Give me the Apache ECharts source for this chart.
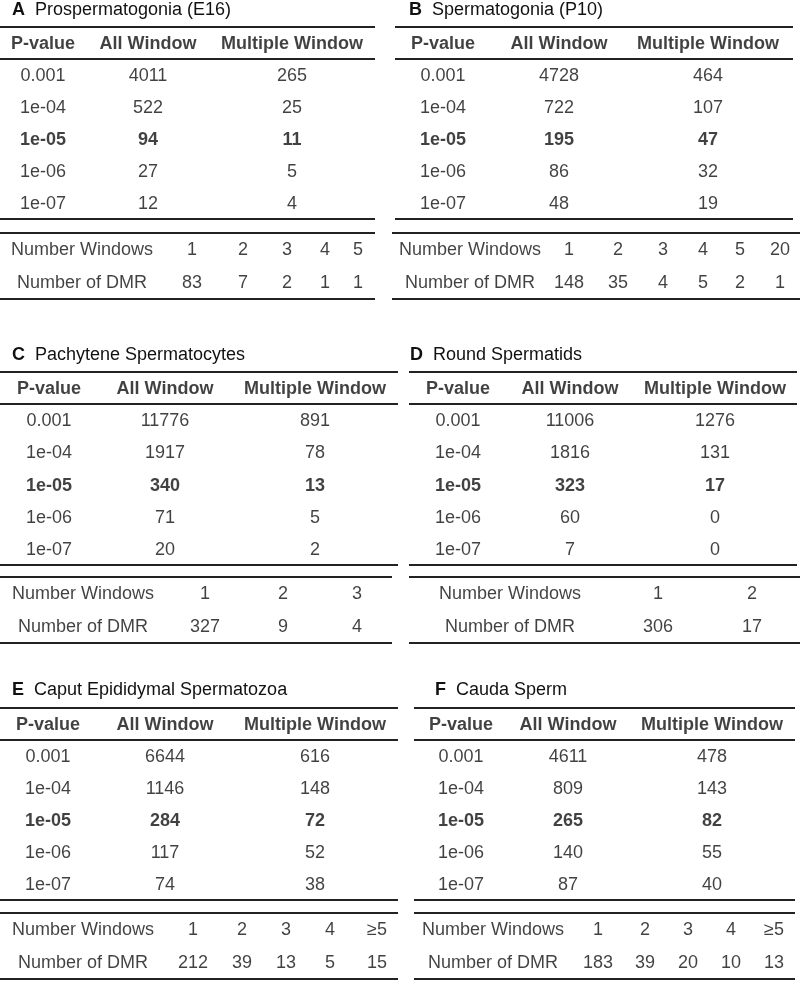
<!DOCTYPE html>
<html>
<head>
<meta charset="utf-8">
<script src="https://cdn.jsdelivr.net/npm/echarts@6/dist/echarts.min.js"></script>
<style>
html,body{margin:0;padding:0;background:#fff;}
#chart{width:800px;height:981px;}
</style>
</head>
<body>
<div id="chart"></div>
<script>
// ---------- DATA ----------
const headers = ['P-value', 'All Window', 'Multiple Window'];
const pValues = ['0.001', '1e-04', '1e-05', '1e-06', '1e-07'];
const boldP = '1e-05';
const bottomLabels = ['Number Windows', 'Number of DMR'];

const titleA = 'Prospermatogonia (E16)';
const allA = [4011, 522, 94, 27, 12];
const multA = [265, 25, 11, 5, 4];
const winA = ['1', '2', '3', '4', '5'];
const dmrA = [83, 7, 2, 1, 1];

const titleB = 'Spermatogonia (P10)';
const allB = [4728, 722, 195, 86, 48];
const multB = [464, 107, 47, 32, 19];
const winB = ['1', '2', '3', '4', '5', '20'];
const dmrB = [148, 35, 4, 5, 2, 1];

const titleC = 'Pachytene Spermatocytes';
const allC = [11776, 1917, 340, 71, 20];
const multC = [891, 78, 13, 5, 2];
const winC = ['1', '2', '3'];
const dmrC = [327, 9, 4];

const titleD = 'Round Spermatids';
const allD = [11006, 1816, 323, 60, 7];
const multD = [1276, 131, 17, 0, 0];
const winD = ['1', '2'];
const dmrD = [306, 17];

const titleE = 'Caput Epididymal Spermatozoa';
const allE = [6644, 1146, 284, 117, 74];
const multE = [616, 148, 72, 52, 38];
const winE = ['1', '2', '3', '4', '≥5'];
const dmrE = [212, 39, 13, 5, 15];

const titleF = 'Cauda Sperm';
const allF = [4611, 809, 265, 140, 87];
const multF = [478, 143, 82, 55, 40];
const winF = ['1', '2', '3', '4', '≥5'];
const dmrF = [183, 39, 20, 10, 13];

// ---------- LAYOUT (positions only) ----------
const layouts = {
  A: {title: [12, 1],   top: {x: [0, 375],   y: [27, 219],  cols: [43, 148, 292]},  bot: {x: [0, 375],   y: [233, 299], labelX: 82,  cols: [192, 243, 287, 325, 358]}},
  B: {title: [409, 1],  top: {x: [395, 793], y: [27, 219],  cols: [443, 559, 708]}, bot: {x: [392, 800], y: [233, 299], labelX: 470, cols: [569, 618, 663, 703, 740, 780]}},
  C: {title: [12, 346], top: {x: [0, 398],   y: [372, 565], cols: [49, 165, 315]},  bot: {x: [0, 392],   y: [577, 643], labelX: 83,  cols: [205, 283, 357]}},
  D: {title: [410, 346],top: {x: [409, 797], y: [372, 565], cols: [458, 570, 715]}, bot: {x: [409, 800], y: [577, 643], labelX: 510, cols: [658, 752]}},
  E: {title: [12, 681], top: {x: [0, 398],   y: [708, 900], cols: [48, 165, 315]},  bot: {x: [0, 398],   y: [913, 979], labelX: 83,  cols: [193, 242, 286, 330, 377]}},
  F: {title: [435, 681],top: {x: [414, 795], y: [708, 900], cols: [461, 568, 712]}, bot: {x: [414, 795], y: [913, 979], labelX: 493, cols: [598, 645, 688, 731, 774]}}
};

const panels = [
  {key: 'A', title: titleA, all: allA, mult: multA, win: winA, dmr: dmrA},
  {key: 'B', title: titleB, all: allB, mult: multB, win: winB, dmr: dmrB},
  {key: 'C', title: titleC, all: allC, mult: multC, win: winC, dmr: dmrC},
  {key: 'D', title: titleD, all: allD, mult: multD, win: winD, dmr: dmrD},
  {key: 'E', title: titleE, all: allE, mult: multE, win: winE, dmr: dmrE},
  {key: 'F', title: titleF, all: allF, mult: multF, win: winF, dmr: dmrF}
];

// ---------- BUILD ----------
const FONT = "'Liberation Sans', Arial, Helvetica, sans-serif";
const TXT = '#111';
const RULE = '#222';

const option = {
  animation: false,
  backgroundColor: '#fff',
  title: [], grid: [], xAxis: [], yAxis: [], series: []
};

function cell(x, row, text, bold) {
  return {
    name: String(text),
    value: [x, row],
    label: {fontWeight: bold ? 'bold' : 'normal'}
  };
}

function addGrid(x, y, yMax, data, lines) {
  const gi = option.grid.length;
  option.grid.push({left: x[0], top: y[0], width: x[1] - x[0], height: y[1] - y[0], containLabel: false});
  option.xAxis.push({type: 'value', gridIndex: gi, min: x[0], max: x[1], show: false});
  option.yAxis.push({type: 'value', gridIndex: gi, min: -0.5, max: yMax, inverse: true, show: false});
  option.series.push({
    type: 'scatter', xAxisIndex: gi, yAxisIndex: gi,
    symbolSize: 0, silent: true,
    data: data,
    label: {
      show: true, position: 'inside', offset: [0, 1],
      formatter: p => p.name,
      fontSize: 18, fontFamily: FONT, color: TXT
    },
    markLine: {
      silent: true, symbol: ['none', 'none'],
      label: {show: false},
      lineStyle: {color: RULE, width: 2, type: 'solid'},
      data: lines.map(v => ({yAxis: v}))
    }
  });
}

panels.forEach(p => {
  const L = layouts[p.key];
  option.title.push({
    left: L.title[0], top: L.title[1], padding: 0,
    text: '{b|' + p.key + '}  {t|' + p.title + '}',
    textStyle: {
      fontWeight: 'normal', fontSize: 18, fontFamily: FONT, color: TXT,
      rich: {
        b: {fontWeight: 'bold', fontSize: 18, fontFamily: FONT, color: TXT},
        t: {fontWeight: 'normal', fontSize: 18, fontFamily: FONT, color: TXT}
      }
    }
  });

  // top table: header row 0, rows 1..5
  const topData = [];
  headers.forEach((h, c) => topData.push(cell(L.top.cols[c], 0, h, true)));
  pValues.forEach((pv, r) => {
    const b = pv === boldP;
    topData.push(cell(L.top.cols[0], r + 1, pv, b));
    topData.push(cell(L.top.cols[1], r + 1, p.all[r], b));
    topData.push(cell(L.top.cols[2], r + 1, p.mult[r], b));
  });
  addGrid(L.top.x, L.top.y, pValues.length + 0.5, topData, [-0.5, 0.5, pValues.length + 0.5]);

  // bottom table
  const botData = [];
  botData.push(cell(L.bot.labelX, 0, bottomLabels[0], false));
  botData.push(cell(L.bot.labelX, 1, bottomLabels[1], false));
  p.win.forEach((w, i) => {
    botData.push(cell(L.bot.cols[i], 0, w, false));
    botData.push(cell(L.bot.cols[i], 1, p.dmr[i], false));
  });
  addGrid(L.bot.x, L.bot.y, 1.5, botData, [-0.5, 1.5]);
});

const chart = echarts.init(document.getElementById('chart'), null, {renderer: 'canvas'});
chart.setOption(option);
</script>
</body>
</html>
